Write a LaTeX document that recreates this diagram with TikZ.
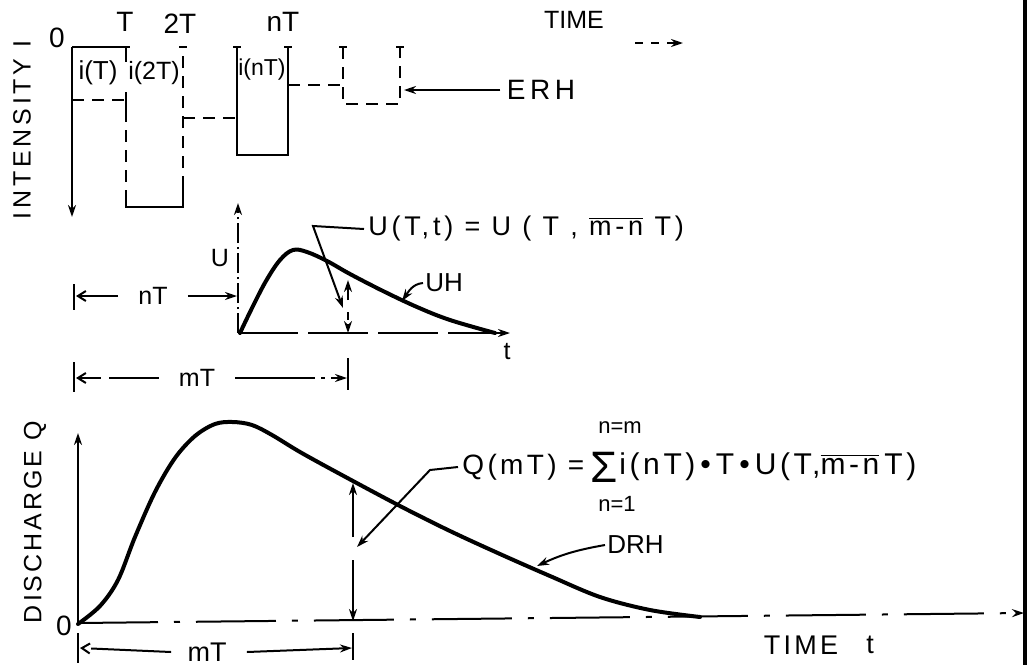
\documentclass[tikz,border=0pt]{standalone}
\usepackage{fontspec}
\setmainfont{Liberation Sans}
\newfontfamily\spc{Liberation Sans}[LetterSpace=12]
\newfontfamily\spcu{Liberation Sans}[LetterSpace=14]
\newfontfamily\spcb{Liberation Sans}[LetterSpace=15]
\usetikzlibrary{arrows.meta}
\begin{document}
\begin{tikzpicture}[x=0.5pt,y=-0.5pt,
  ln/.style={line width=1pt},
  bx/.style={line width=1.4pt, line join=miter},
  thk/.style={line width=2pt, line cap=round, line join=round},
  dsh/.style={line width=1.4pt, dash pattern=on 6pt off 4pt},
  ax/.style={line width=1pt},
  tip/.style={-{Stealth[length=6pt,width=4pt]}},
  otip/.style={-{Straight Barb[length=4pt,width=5pt]}},
  txt/.style={inner sep=0pt, font=\fontsize{12.5}{14}\selectfont},
  big/.style={inner sep=0pt, font=\fontsize{14}{16}\selectfont},
  sml/.style={inner sep=0pt, font=\fontsize{12.5}{14}\selectfont},
]
\useasboundingbox (0,0) rectangle (1028,665);

% ================= INTENSITY (ERH) =================
\coordinate (i0) at (72,47);
\coordinate (i0b) at (72,217);
\draw[ax,tip] (i0) -- (i0b);
\node[txt,rotate=90,font=\spcb\fontsize{12.5}{14}\selectfont] (intens) at (22,130) {INTENSITY I};
\node[big] (l0) at (57,38) {0};
\node[big] (lT) at (125,22) {T};
\node[big] (l2T) at (180,24) {2T};
\node[big] (lnT) at (283,22) {nT};
% pulse 1
\draw[bx] (72,47) -- (126,47);
\draw[dsh] (72,100) -- (126,100);
\node[sml,font=\fontsize{13}{15}\selectfont] (p1) at (98,73) {i(T)};
% pulse 2
\draw[bx] (126,47) -- (126,62);
\draw[bx] (126,92) -- (126,110);
\draw[dsh] (126,110) -- (126,190);
\draw[bx] (126,190) -- (126,207) -- (183,207) -- (183,188);
\draw[dsh] (183,188) -- (183,47);
\node[sml] (p2) at (154,73) {i(2T)};
% level 3
\draw[dsh] (183,118) -- (237,118);
% pulse n
\draw[bx] (237,47) -- (237,155) -- (288,155) -- (288,47);
\node[sml,font=\fontsize{11.5}{13}\selectfont] (pn) at (262,70) {i(nT)};
\draw[dsh] (288,85) -- (343,85);
\draw[dsh] (343,47) -- (343,104) -- (400,104) -- (400,47);
% tick serifs
\foreach \x in {126,183,237,288,343,400}
  \draw[bx] (\x-4,47) -- (\x+4,47);
% ERH label
\node[big] (erh) at (541,90) {E\,R\,H};
\coordinate (erhtip) at (404,90);
\draw[ln,tip,dash pattern=on 62pt off 4pt] ([xshift=-3pt]erh.west) -- (erhtip);
% TIME
\node[txt] (time1) at (574,20) {TIME};
\coordinate (ta) at (635,43);
\coordinate (tb) at (683,43);
\draw[ln,tip,dash pattern=on 4pt off 4pt] (ta) -- (tb);

% ================= UNIT HYDROGRAPH =================
\coordinate (u0) at (238,333);
\coordinate (utop) at (238,203);
\draw[ax,tip,dash pattern=on 10pt off 2pt on 1pt off 2pt] (u0) -- (utop);
\node[txt] (ulab) at (220,258) {U};
% nT dimension
\draw[ln] (74,284) -- (74,310);
\node[txt] (dnT) at (153,296) {nT};
\draw[ln,otip] ([xshift=-10pt]dnT.west) -- (76,296);
\draw[ln,tip] ([xshift=10pt]dnT.east) -- (237,296);
% baseline
\coordinate (uend) at (510,333);
\draw[ln,tip,dash pattern=on 30pt off 5pt] (u0) -- (uend);
\node[txt] (tlab) at (507,352) {t};
% UH curve
\draw[thk] plot[smooth,tension=0.6] coordinates {(240,333)(252,308)(266,281)(280,260)(293,250)(307,252)(327,261)(350,274)(383,291)(417,307)(450,320)(495,333)};
% ordinate at mT
\coordinate (um) at (348,333);
\draw[ln,tip] (348,300) -- (348,280);
\draw[ln,tip,dash pattern=on 4pt off 2pt] (348,312) -- (um);
% U(T,t) label
\node[inner sep=0pt,anchor=west,font=\spcu\fontsize{13.5}{15}\selectfont] (ueq) at (368,229)
  {U(T,t) = U ( T , $\overline{\mbox{m-n}}$ T)};
\coordinate (ubend) at (313,226);
\coordinate (utip) at (343,308);
\draw[ln,tip] ([xshift=-2pt]ueq.west) -- (ubend) -- (utip);
% UH label
\node[txt,anchor=west,font=\fontsize{13}{15}\selectfont] (uh) at (425,283) {UH};
\coordinate (uhtip) at (402,301);
\draw[ln,tip] ([xshift=-1pt]uh.west) to[out=185,in=55] (uhtip);
% mT dimension (upper)
\draw[ln] (74,362) -- (74,392);
\draw[ln] (348,358) -- (348,390);
\node[txt] (dmT1) at (197,378) {mT};
\draw[ln,otip,dash pattern=on 25pt off 4pt] ([xshift=-10pt]dmT1.west) -- (76,378);
\draw[ln,tip,dash pattern=on 40pt off 3pt on 2pt off 3pt] ([xshift=10pt]dmT1.east) -- (347,378);

% ================= DISCHARGE (DRH) =================
\coordinate (q0) at (78,623);
\coordinate (qtop) at (78,433);
\draw[ax,tip] (q0) -- (qtop);
\node[txt,rotate=90,font=\spc\fontsize{12.5}{14}\selectfont] (disch) at (35,522) {DISCHARGE Q};
\node[big] (lO) at (64,626) {0};
\coordinate (qend) at (1024,613);
\draw[ax,tip,dash pattern=on 40pt off 8pt on 3pt off 8pt] (q0) -- (qend);
% DRH curve
\draw[thk] plot[smooth,tension=0.55] coordinates {(78,624)(100,606)(118,580)(135,537)(155,492)(175,458)(195,436)(215,424)(233,422)(252,425)(272,435)(300,452)(340,474)(400,506)(450,531)(500,554)(550,576)(600,597)(650,610)(700,617)};
% ordinate at mT
\coordinate (qm) at (353,621);
\draw[ln,tip] (353,537) -- (353,483);
\draw[ln,tip] (353,560) -- (qm);
% formula
\node[inner sep=0pt,anchor=west,font=\spc\fontsize{14}{16}\selectfont] (qeq) at (462,467) {Q(mT) =};
\node[inner sep=0pt,font=\fontsize{22}{24}\selectfont] (sig) at (604,467) {Σ};
\node[inner sep=0pt,font=\fontsize{11}{12}\selectfont] (nm) at (620,428) {n=m};
\node[inner sep=0pt,font=\fontsize{11}{12}\selectfont] (n1) at (617,504) {n=1};
\node[inner sep=0pt,anchor=west,font=\spc\fontsize{15}{17}\selectfont] (qrest) at (619,467)
  {i(nT)\,\textbullet\,T\,\textbullet\,U(T,$\overline{\mbox{m-n}}$\,T)};
\coordinate (qbend) at (430,470);
\coordinate (qtip) at (357,547);
\draw[ln,tip] ([xshift=-2pt]qeq.west) -- (qbend) -- (qtip);
% DRH label
\node[txt,anchor=west,font=\fontsize{13}{15}\selectfont] (drh) at (607,545) {DRH};
\coordinate (drhtip) at (537,566);
\draw[ln,tip] ([xshift=-1pt]drh.west) to[out=190,in=25] (drhtip);
% TIME t
\node[txt,font=\spc\fontsize{13.5}{15}\selectfont] (time2) at (801,645) {TIME};
\node[txt,font=\fontsize{13.5}{15}\selectfont] (tt) at (870,645) {t};
% mT dimension (lower)
\draw[ln] (78,633) -- (78,663);
\draw[ln] (353,633) -- (353,660);
\node[txt,font=\fontsize{13.5}{15}\selectfont] (dmT2) at (207,652) {mT};
\draw[ln,otip,dash pattern=on 40pt off 4pt] ([xshift=-8pt]dmT2.west) -- (80,648);
\draw[ln,tip] ([xshift=10pt]dmT2.east) -- (352,648);
% right border
\coordinate (bt) at (1025,0);
\coordinate (bb) at (1025,665);
\draw[line width=2.2pt] (bt) -- (bb);
\end{tikzpicture}
\end{document}
